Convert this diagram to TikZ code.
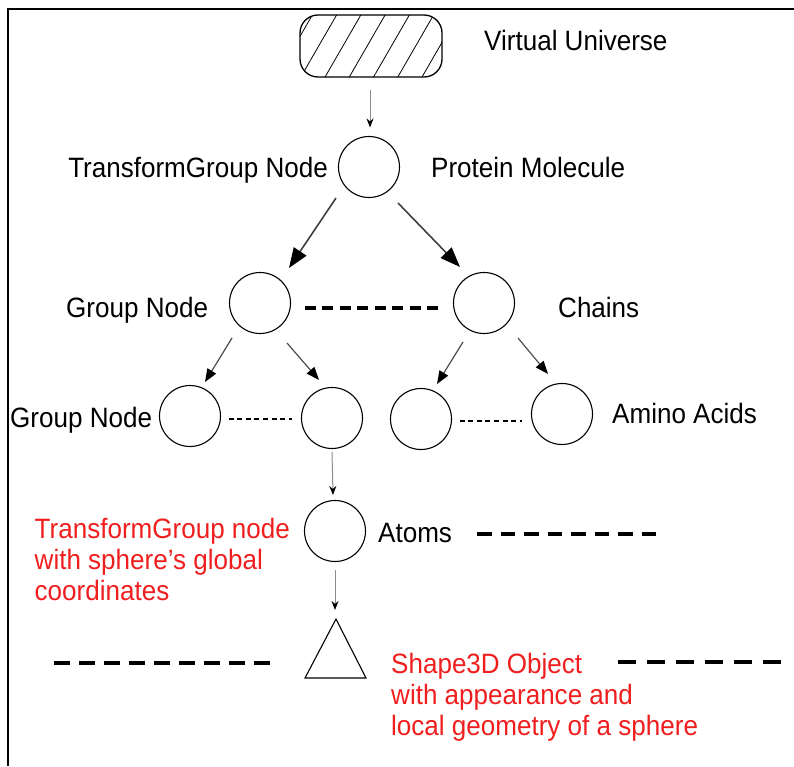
\documentclass[tikz,border=0pt]{standalone}
\usepackage{fontspec}
\setmainfont[FakeStretch=0.93]{Liberation Sans}
\usetikzlibrary{arrows.meta,patterns.meta,calc}
\definecolor{myred}{RGB}{240,30,30}
\begin{document}
\begin{tikzpicture}[x=1pt,y=1pt,
  every node/.style={font=\fontsize{28}{31}\selectfont},
  circ/.style={draw, circle, minimum size=61pt, inner sep=0pt, line width=1.1pt},
  lbl/.style={anchor=base west, inner sep=0pt},
  lblr/.style={anchor=base east, inner sep=0pt},
  redlbl/.style={anchor=base west, inner sep=0pt, align=left, text=myred},
  thinarr/.style={draw=black!45, line width=1pt, -{Stealth[length=9pt,width=7pt,color=black]}},
  bigarr/.style={draw=black!75, line width=1.6pt, -{Triangle[length=20pt,width=15pt,color=black]}},
  midarr/.style={draw=black!70, line width=1.2pt, -{Triangle[length=13pt,width=10pt,color=black]}},
  thickdash/.style={line width=4pt},
  dotdash/.style={line width=2.5pt, dash pattern=on 5pt off 3.6pt}]
\useasboundingbox (0,-766) rectangle (794,0);
\draw[line width=2.7pt] (8,-766) -- (8,-9) -- (794,-9);

% nodes
\node[draw, rounded corners=18pt, minimum width=142pt, minimum height=62pt, line width=1.3pt,
      pattern={Lines[angle=60,distance=21pt,line width=0.8pt]}] (vu) at (371,-46) {};
\node[circ] (tg) at (369,-167) {};
\node[circ] (g1) at (260,-303) {};
\node[circ] (ch) at (484,-303) {};
\node[circ] (g2a) at (190,-416) {};
\node[circ] (g2b) at (332,-418) {};
\node[circ] (c2a) at (421,-419) {};
\node[circ] (c2b) at (562,-414) {};
\node[circ] (at) at (335,-531) {};
\draw[line width=1.1pt] (305,-678) -- (336,-619) -- (366,-678) -- cycle;
\coordinate (tri) at (336,-619);

% labels
\node[lbl] (vul) at (484,-50) {Virtual Universe};
\node[lblr] (tgl) at (328,-177) {TransformGroup Node};
\node[lbl] (pml) at (431,-177) {Protein Molecule};
\node[lbl] (g1l) at (66,-317) {Group Node};
\node[lbl] (chl) at (558,-317) {Chains};
\node[lbl] (g2l) at (10,-427) {Group Node};
\node[lbl] (aal) at (612,-423) {Amino Acids};
\node[lbl] (atl) at (378,-542) {Atoms};
\node[redlbl] (r1) at (34.5,-600) {TransformGroup node\\with sphere's global\\coordinates};
\node[redlbl] (r2) at (391,-735) {Shape3D Object\\with appearance and\\local geometry of a sphere};

% connectors
\draw[thinarr] ($(vu.south)+(-1,-13)$) -- ($(tg.north)+(1,8.5)$);
\draw[bigarr] ($(tg)+(-33,-31)$) -- ($(g1)+(29,35)$);
\draw[bigarr] ($(tg)+(29,-36)$) -- ($(ch)+(-24,36)$);
\draw[midarr] ($(g1)+(-28,-35)$) -- ($(g2a)+(15,34)$);
\draw[midarr] ($(g1)+(27,-40)$) -- ($(g2b)+(-13,38)$);
\draw[midarr] ($(ch)+(-21,-39)$) -- ($(c2a)+(16,35)$);
\draw[midarr] ($(ch)+(34,-35)$) -- ($(c2b)+(-14,40)$);
\draw[thinarr] ($(g2b)+(0,-34)$) -- ($(at)+(-2,36)$);
\draw[thinarr] ($(at)+(0,-39)$) -- ($(tri)+(-1,9)$);

% dashed links
\draw[thickdash, dash pattern=on 11pt off 6.5pt] ($(g1.east)+(13.5,-5)$) -- ($(ch.west)+(-11.5,-5)$);
\draw[dotdash] ($(g2a.east)+(7.5,-3)$) -- ($(g2b.west)+(-8.5,-1)$);
\draw[dotdash] ($(c2a.east)+(7.5,-2)$) -- ($(c2b.west)+(-8.5,-7)$);
\draw[thickdash, dash pattern=on 14.5pt off 9pt] (477,-534) -- (656,-534);
\draw[thickdash, dash pattern=on 15.5pt off 9.5pt] (54,-663) -- (270,-663);
\draw[thickdash, dash pattern=on 18pt off 11pt] (618,-662) -- (782,-662);
\end{tikzpicture}
\end{document}
